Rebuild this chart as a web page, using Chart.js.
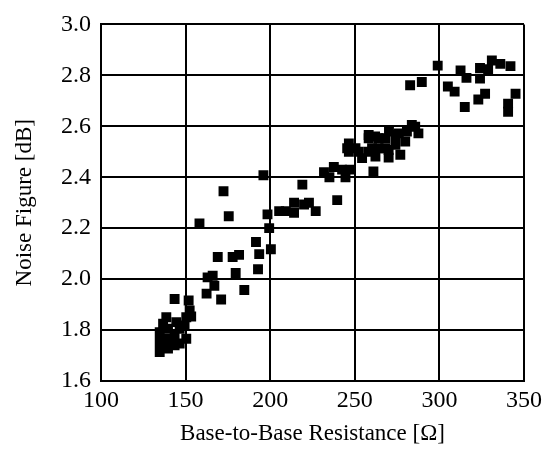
<!DOCTYPE html>
<html>
<head>
<meta charset="utf-8">
<script src="https://cdn.jsdelivr.net/npm/chart.js@4"></script>
<style>
  html, body { margin: 0; padding: 0; background: #fff; }
  #wrap { width: 547px; height: 451px; }
</style>
</head>
<body>
<div id="wrap"><canvas id="noise-figure"></canvas></div>
<script>
// Base-to-base resistance (ohm) and measured noise figure (dB)
const resistance = [
  134.7, 134.7, 134.7, 136.7, 138.6, 139.6, 139.6, 139.6, 143.5, 143.5,
  144.5, 146.5, 146.5, 150.4, 149.4, 150.4, 152.4, 151.8, 143.5, 137.0,
  141.5, 153.3, 158.2, 162.4, 163.0, 166.0, 167.0, 169.0, 171.0, 172.4,
  175.5, 177.8, 181.6, 179.6, 184.7, 191.6, 193.5, 192.8, 196.0, 198.4,
  199.4, 200.4, 205.3, 209.2, 214.1, 214.1, 219.0, 220.0, 222.9, 226.9,
  231.8, 235.0, 237.6, 242.5, 244.5, 247.0, 239.6, 245.5, 246.5, 246.5,
  250.4, 252.4, 254.3, 258.2, 258.2, 258.2, 260.2, 261.0, 262.0, 262.2,
  264.0, 264.0, 268.0, 268.0, 270.0, 270.0, 270.2, 274.0, 274.0, 276.0,
  276.9, 279.8, 280.8, 283.7, 285.7, 287.6, 282.7, 289.6, 299.0, 305.0,
  309.0, 312.5, 316.0, 324.0, 324.0, 328.8, 331.0, 336.0, 342.0, 315.0,
  323.0, 327.0, 340.6, 340.6, 345.0
];
const noiseFigure = [
  1.714, 1.753, 1.792, 1.825, 1.850, 1.727, 1.766, 1.805, 1.740, 1.780,
  1.831, 1.747, 1.805, 1.766, 1.818, 1.850, 1.877, 1.916, 1.922, 1.735,
  1.760, 1.853, 2.219, 1.943, 2.007, 2.013, 1.974, 2.087, 1.920, 2.345,
  2.247, 2.087, 2.095, 2.024, 1.957, 2.146, 2.098, 2.039, 2.408, 2.254,
  2.200, 2.117, 2.267, 2.267, 2.300, 2.260, 2.371, 2.293, 2.300, 2.267,
  2.420, 2.400, 2.440, 2.430, 2.400, 2.430, 2.310, 2.514, 2.500, 2.533,
  2.514, 2.500, 2.475, 2.566, 2.553, 2.500, 2.514, 2.423, 2.560, 2.481,
  2.553, 2.514, 2.553, 2.514, 2.507, 2.477, 2.579, 2.566, 2.527, 2.572,
  2.488, 2.540, 2.579, 2.605, 2.598, 2.572, 2.761, 2.774, 2.838, 2.756,
  2.736, 2.819, 2.790, 2.829, 2.787, 2.824, 2.858, 2.845, 2.836, 2.676,
  2.705, 2.728, 2.689, 2.657, 2.728
];

const xTicks = [100, 150, 200, 250, 300, 350];
const yTicks = [1.6, 1.8, 2.0, 2.2, 2.4, 2.6, 2.8, 3.0];

let points = [];
resistance.forEach((r, i) => {
  points.push({ x: r, y: noiseFigure[i] });
});

const serif = 'Liberation Serif';

const ctx = document.getElementById('noise-figure').getContext('2d');
const noiseChart = new Chart(ctx, {
  type: 'scatter',
  data: {
    datasets: [{
      label: 'Noise Figure',
      data: points,
      pointStyle: 'rect',
      pointRadius: 7,
      backgroundColor: '#000',
      borderColor: '#000',
      borderWidth: 0
    }]
  },
  options: {
    responsive: true,
    maintainAspectRatio: false,
    animation: false,
    layout: {
      padding: { left: 0, top: 22, right: 21, bottom: 0 }
    },
    plugins: {
      legend: { display: false },
      tooltip: { enabled: false }
    },
    scales: {
      x: {
        type: 'linear',
        min: xTicks[0],
        max: xTicks[xTicks.length - 1],
        afterBuildTicks: (scale) => {
          scale.ticks = xTicks.map(v => ({ value: v }));
        },
        afterFit: (scale) => { scale.height = 70; },
        grid: {
          color: '#000',
          lineWidth: 2,
          drawTicks: false
        },
        border: { color: '#000', width: 2 },
        ticks: {
          color: '#000',
          padding: 5,
          maxRotation: 0,
          font: { family: serif, size: 24 }
        },
        title: {
          display: true,
          text: 'Base-to-Base Resistance [Ω]',
          color: '#000',
          padding: { top: 0, bottom: 3 },
          font: { family: serif, size: 23 }
        }
      },
      y: {
        type: 'linear',
        min: yTicks[0],
        max: yTicks[yTicks.length - 1],
        afterBuildTicks: (scale) => {
          scale.ticks = yTicks.map(v => ({ value: v }));
        },
        afterFit: (scale) => { scale.width = 101; },
        grid: {
          color: '#000',
          lineWidth: 2,
          drawTicks: false
        },
        border: { color: '#000', width: 2 },
        ticks: {
          color: '#000',
          padding: 10,
          font: { family: serif, size: 24 },
          callback: (v) => Number(v).toFixed(1)
        },
        title: {
          display: true,
          text: 'Noise Figure [dB]',
          color: '#000',
          padding: { top: 11, bottom: 0 },
          font: { family: serif, size: 23 }
        }
      }
    }
  }
});
</script>
</body>
</html>
